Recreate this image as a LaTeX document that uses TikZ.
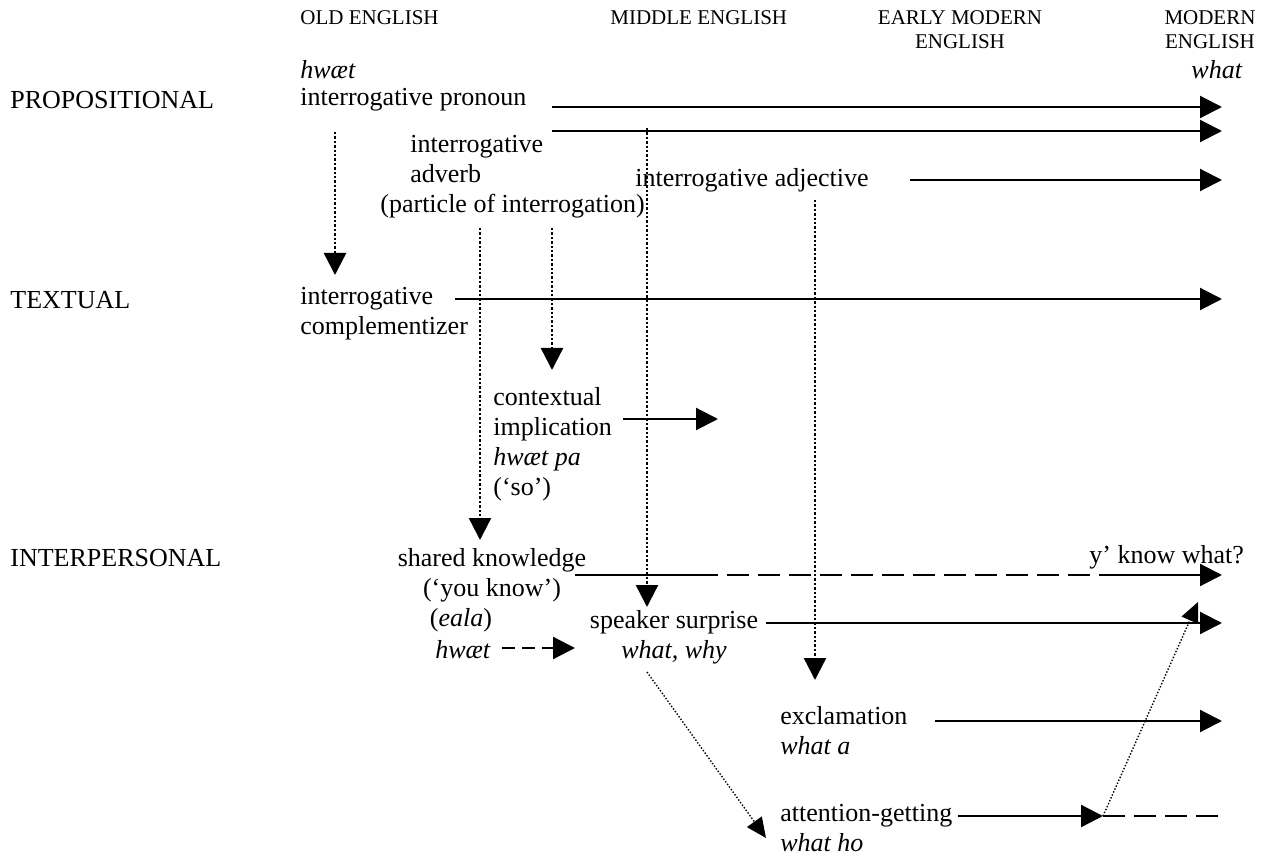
\documentclass[tikz,border=0pt]{standalone}
\usepackage{fontspec}
\setmainfont{Liberation Serif}
\usetikzlibrary{arrows.meta}
\tikzset{
  lbl/.style={inner sep=0pt, font=\fontsize{13}{15}\selectfont},
  period/.style={inner sep=0pt, font=\fontsize{10.5}{12}\selectfont, align=center},
  flow/.style={line width=1.1pt, -{Triangle[length=11pt,width=11pt]}},
  plain/.style={line width=1.1pt},
  dashline/.style={line width=1.1pt, dash pattern=on 11pt off 4.5pt},
  shortdash/.style={line width=1.1pt, dash pattern=on 6.5pt off 3.5pt, -{Triangle[length=11pt,width=11pt]}},
  trace/.style={line width=1.2pt, dash pattern=on 1.2pt off 1pt, -{Triangle[length=11pt,width=11pt]}},
  thintrace/.style={line width=0.7pt, dash pattern=on 0.7pt off 0.9pt, -{Triangle[length=10pt,width=9pt]}}
}
\begin{document}
\begin{tikzpicture}[x=0.5pt,y=-0.5pt]
\useasboundingbox (0,0) rectangle (1266,856);
% periods
\node[period,anchor=west] (oe) at (300,18) {OLD ENGLISH};
\node[period,anchor=west] (me) at (610,18) {MIDDLE ENGLISH};
\node[period] (eme) at (960,30) {EARLY MODERN\\ENGLISH};
\node[period] (mode) at (1210,30) {MODERN\\ENGLISH};
\node[lbl] (what) at (1217,70) {\textit{what}};
% functions
\node[lbl,anchor=west] (prop) at (10,100) {PROPOSITIONAL};
\node[lbl,anchor=west] (text) at (10,300) {TEXTUAL};
\node[lbl,anchor=west] (inter) at (10,558) {INTERPERSONAL};
% meanings
\node[lbl,anchor=west] (hw) at (300,70) {\textit{hwæt}};
\node[lbl,anchor=west] (pron) at (300,100) {interrogative pronoun};
\node[lbl,anchor=west,align=left] (adv) at (380,177) {\hspace*{15pt}interrogative\\\hspace*{15pt}adverb\\(particle of interrogation)};
\node[lbl,anchor=west] (adj) at (635,180) {interrogative adjective};
\node[lbl,anchor=west,align=left] (comp) at (300,314) {interrogative\\complementizer};
\node[lbl,anchor=west,align=left] (ctx) at (493,444) {contextual\\implication\\\textit{hwæt pa}\\(‘so’)};
\node[lbl,align=center] (sk) at (492,575) {shared knowledge\\(‘you know’)};
\node[lbl] (eala) at (461,620) {(\textit{eala})};
\node[lbl] (hwb) at (463,650) {\textit{hwæt}};
\node[lbl,align=center] (ss) at (674,637) {speaker surprise\\\textit{what, why}};
\node[lbl,anchor=west,align=left] (excl) at (780,731) {exclamation\\\textit{what a}};
\node[lbl,anchor=west,align=left] (att) at (780,828) {attention-getting\\\textit{what ho}};
\node[lbl,anchor=west] (ykw) at (1089,557) {y’ know what?};
% continuing lines
\foreach \n/\xa/\xb/\y in {a/552/1222/107, b/552/1222/131, c/910/1222/180, d/455/1222/299,
  e/623/718/419, f/1103/1222/575, g/766/1222/623, h/935/1222/721, i/958/1103/816} {
\coordinate (s\n) at (\xa,\y);
\coordinate (e\n) at (\xb,\y);
\draw[flow] (s\n) -- (e\n);
}
\coordinate (ska) at (575,575);
\coordinate (skb) at (696,575);
\draw[plain] (ska) -- (skb);
\draw[dashline] (skb) -- (sf);
\draw[dashline] (ei) -- (1222,816) coordinate (atte);
\coordinate (hwe) at (502,648);
\coordinate (hwf) at (575,648);
\draw[shortdash] (hwe) -- (hwf);
% shifts of function
\foreach \n/\x/\ya/\yb in {a/335/132/275, b/480/228/540, c/552/228/370, d/647/128/607, e/815/200/680} {
\coordinate (t\n) at (\x,\ya);
\coordinate (u\n) at (\x,\yb);
\draw[trace] (t\n) -- (u\n);
}
\coordinate (ssd) at (647,672);
\coordinate (attw) at (766,838);
\draw[thintrace] (ssd) -- (attw);
\coordinate (ykwd) at (1198,602);
\draw[thintrace] (ei) -- (ykwd);
\end{tikzpicture}
\end{document}
